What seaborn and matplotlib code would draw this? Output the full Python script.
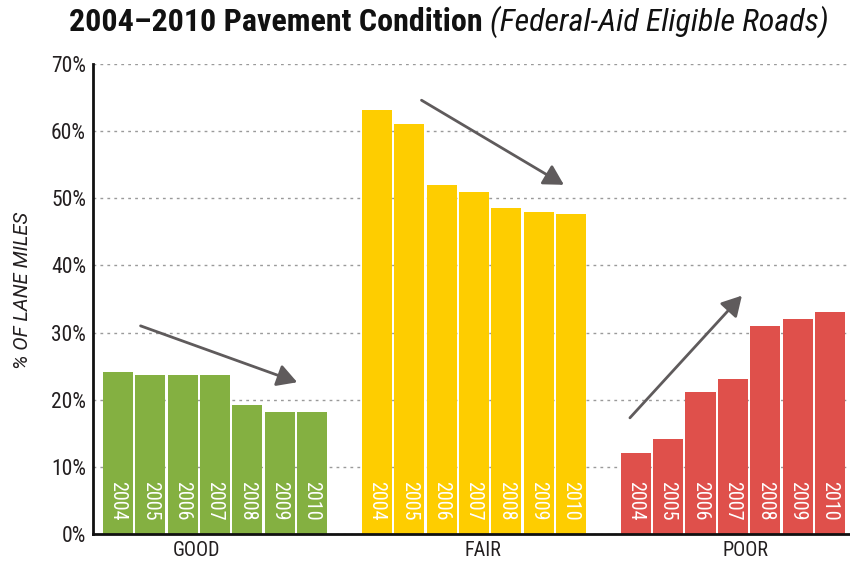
import numpy as np
import pandas as pd
import matplotlib
matplotlib.use("Agg")
import matplotlib.pyplot as plt
import seaborn as sns
from matplotlib import font_manager

# ---- data ----
conditions = ["GOOD", "FAIR", "POOR"]
years = [2004, 2005, 2006, 2007, 2008, 2009, 2010]
good = [24.1, 23.7, 23.7, 23.7, 19.2, 18.2, 18.2]
fair = [63.1, 61.1, 52.0, 51.0, 48.5, 48.0, 47.6]
poor = [12.0, 14.1, 21.1, 23.1, 31.0, 32.0, 33.1]
colors = ["#84B041", "#FECD00", "#DF504B"]
y_ticks = [0, 10, 20, 30, 40, 50, 60, 70]
cond_label_pos = [2.42, 11.28, 19.4]

# trend arrows (start -> end) in data units
arrow_starts = [(0.70, 31.0), (9.38, 64.6), (15.82, 17.3)]
arrow_ends = [(5.54, 22.6), (13.78, 52.0), (19.28, 35.5)]

sns.set_theme(style="white")
names = {f.name for f in font_manager.fontManager.ttflist}
prefs = ["Liberation Sans Narrow", "Roboto Condensed", "Open Sans Condensed", "Roboto", "DejaVu Sans"]
main_font = next(f for f in prefs if f in names or f == "DejaVu Sans")
plt.rcParams["font.family"] = [main_font, "DejaVu Sans"]
label_font = "Roboto" if "Roboto" in names else main_font

rows = []
for gi, (cond, vals) in enumerate(zip(conditions, [good, fair, poor])):
    for yi, (yr, v) in enumerate(zip(years, vals)):
        rows.append({"pos": gi * 8 + yi, "value": v, "condition": cond, "year": yr})
df = pd.DataFrame(rows)

fig = plt.figure(figsize=(8.5, 5.66), dpi=100)
ax = fig.add_axes([0.1094, 0.0565, 0.8906, 0.8305])

sns.barplot(data=df, x="pos", y="value", hue="condition", palette=colors,
            hue_order=conditions, native_scale=True, dodge=False, width=0.93,
            saturation=1, legend=False, ax=ax, linewidth=0, errorbar=None)

for _, r in df.iterrows():
    ax.text(r["pos"], 5.0, str(r["year"]), rotation=270, ha="center", va="center",
            color="white", fontsize=14.5)

for s, e in zip(arrow_starts, arrow_ends):
    ax.annotate("", xy=e, xytext=s,
                arrowprops=dict(arrowstyle="-|>,head_length=0.8,head_width=0.45",
                                color="#5f5b5c", lw=2, mutation_scale=15,
                                shrinkA=0, shrinkB=0))

ax.set_xlim(-0.77, 22.62)
ax.set_ylim(0, 70)
ax.set_yticks(y_ticks)
ax.set_yticklabels([f"{t}%" for t in y_ticks], fontsize=15.5, color="#231f20")
ax.set_xticks(cond_label_pos)
ax.set_xticklabels(conditions, fontsize=14.5, color="#231f20")
ax.tick_params(axis="both", length=0)
ax.tick_params(axis="x", pad=5)
ax.tick_params(axis="y", pad=5)
ax.set_xlabel("")
ax.set_ylabel("% OF LANE MILES", fontsize=14.5, style="italic", color="#231f20",
              family=[label_font, "DejaVu Sans"])
ax.yaxis.set_label_coords(-0.08, 0.519)

ax.yaxis.grid(True, linestyle=(0, (2, 3)), color="#9a9a9a", linewidth=1)
ax.xaxis.grid(False)
ax.set_axisbelow(True)
for side in ["top", "right"]:
    ax.spines[side].set_visible(False)
for side in ["left", "bottom"]:
    ax.spines[side].set_color("#111111")
    ax.spines[side].set_linewidth(2)

# title: bold part + italic part, fitted to the reference width
fig.canvas.draw()
renderer = fig.canvas.get_renderer()
fs = 20
t1 = fig.text(0, 0.962, "2004\u20132010 Pavement Condition ", fontsize=fs,
              fontweight="bold", ha="left", va="center", color="#111111")
t2 = fig.text(0, 0.962, "(Federal-Aid Eligible Roads)", fontsize=fs,
              style="italic", ha="left", va="center", color="#111111")
total = (t1.get_window_extent(renderer).width + t2.get_window_extent(renderer).width)
fs = fs * 758.0 / total
t1.set_fontsize(fs)
t2.set_fontsize(fs)
w1 = t1.get_window_extent(renderer).width / fig.bbox.width
w2 = t2.get_window_extent(renderer).width / fig.bbox.width
x0 = 0.528 - (w1 + w2) / 2
t1.set_x(x0)
t2.set_x(x0 + w1)

fig.savefig("out.png", dpi=100)
